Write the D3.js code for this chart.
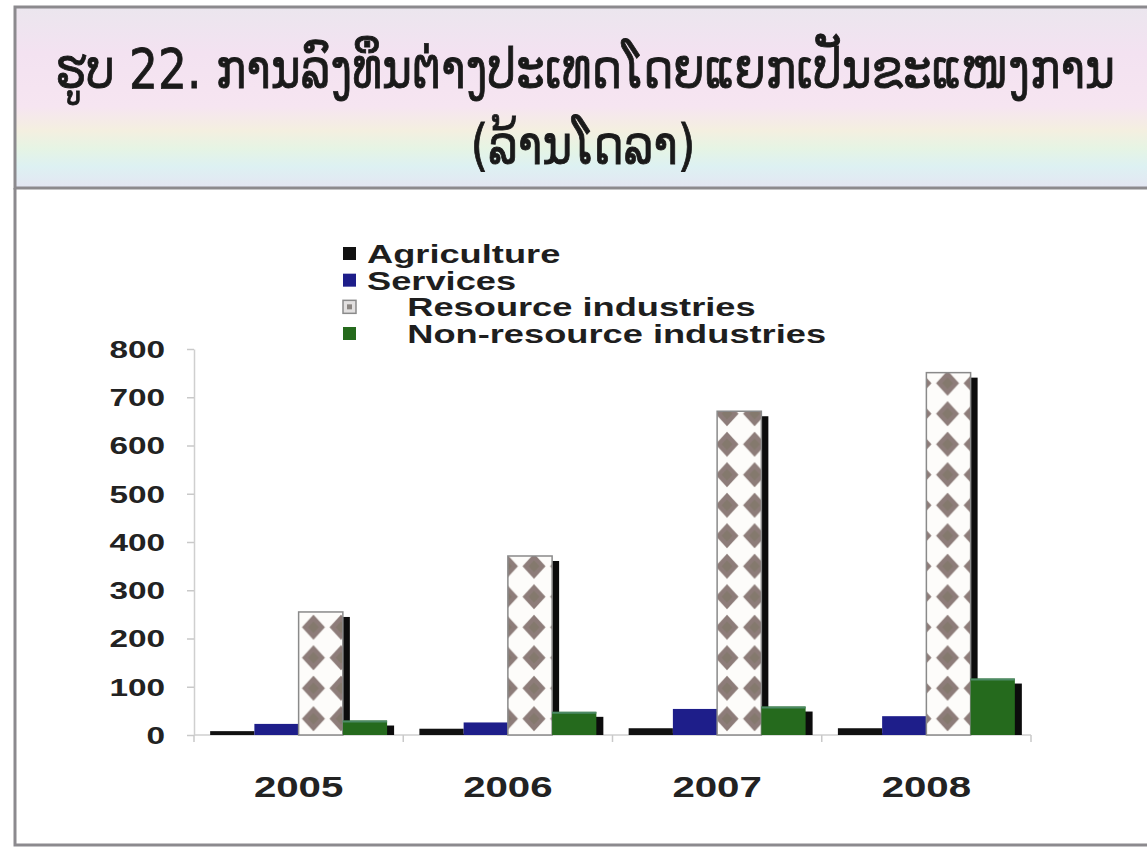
<!DOCTYPE html>
<html><head><meta charset="utf-8">
<script src="https://cdn.jsdelivr.net/npm/d3@7"></script>
<style>
body{margin:0;background:#fff;overflow:hidden}
svg text{white-space:pre}
</style>
</head><body>
<svg id="c" width="1147" height="848"></svg>
<script>
// ---------- data ----------
const titleLine1 = "ຮູບ 22. ການລົງທຶນຕ່າງປະເທດໂດຍແຍກເປັນຂະແໜງການ";
const titleLine2 = "(ລ້ານໂດລາ)";
const years = ["2005", "2006", "2007", "2008"];
const seriesNames = ["Agriculture", "Services", "Resource industries", "Non-resource industries"];
const legendLabels = ["Agriculture", "Services", "    Resource industries", "    Non-resource industries"];
const agriculture = [8, 13, 14, 14];
const services = [23, 26, 54, 39];
const resourceIndustries = [255, 371, 671, 751];
const nonResourceIndustries = [30, 48, 59, 117];
const yTicks = [0, 100, 200, 300, 400, 500, 600, 700, 800];

const seriesValues = [agriculture, services, resourceIndustries, nonResourceIndustries];
const seriesFill = ["#111111", "#1e1e8a", "url(#diamonds)", "#256a1d"];

// ---------- setup ----------
const svg = d3.select("#c");
const defs = svg.append("defs");

const grad = defs.append("linearGradient").attr("id", "titleBg")
  .attr("x1", 0).attr("y1", 0).attr("x2", 0).attr("y2", 1);
[["0%", "#ebe6ee"], ["25%", "#f3e2f1"], ["55%", "#f6e5f1"], ["68%", "#f4efe0"],
 ["78%", "#e6f4e4"], ["88%", "#ddf1f2"], ["100%", "#e4e6f3"]]
  .forEach(([o, c]) => grad.append("stop").attr("offset", o).attr("stop-color", c));

const PW = 27.57, PH = 30.5;
const pat = defs.append("pattern").attr("id", "diamonds")
  .attr("patternUnits", "userSpaceOnUse").attr("width", PW).attr("height", PH)
  .attr("patternTransform", "translate(-3.58,2)");
pat.append("rect").attr("width", PW).attr("height", PH).attr("fill", "#fdfcfa");
pat.append("path").attr("d", `M${PW/2},${PH/2-12.5} L${PW/2+11.5},${PH/2} L${PW/2},${PH/2+12.5} L${PW/2-11.5},${PH/2} Z`).attr("fill", "#8d7c79");
pat.append("path").attr("d", `M${PW/2},${PH/2-6} L${PW/2+5.5},${PH/2} L${PW/2},${PH/2+6} L${PW/2-5.5},${PH/2} Z`).attr("fill", "#7f7666").attr("opacity", 0.6);

// ---------- frames ----------
svg.append("rect").attr("x", 15).attr("y", 7).attr("width", 1150).attr("height", 181)
  .attr("fill", "url(#titleBg)").attr("stroke", "#8c8a8e").attr("stroke-width", 3);
svg.append("path").attr("d", "M15,188 L15,845 L1160,845")
  .attr("fill", "none").attr("stroke", "#8c8a8e").attr("stroke-width", 3);

// ---------- title ----------
function fitText(sel, target) {
  const w = sel.node().getComputedTextLength();
  const s = target / w;
  sel.attr("transform", sel.attr("data-t") + " scale(" + s + ",1)");
}
const TFONT = "'DejaVu Sans', 'Noto Sans', sans-serif";
const t1 = svg.append("text").text(titleLine1)
  .attr("data-t", "translate(585,88)")
  .attr("text-anchor", "middle").attr("font-family", TFONT)
  .attr("font-size", 56).attr("fill", "#1a1a1a")
  .attr("stroke", "#1a1a1a").attr("stroke-width", 0.9);
fitText(t1, 1060);
const t2 = svg.append("text").text(titleLine2)
  .attr("data-t", "translate(583,164)")
  .attr("text-anchor", "middle").attr("font-family", TFONT)
  .attr("font-size", 56).attr("fill", "#1a1a1a")
  .attr("stroke", "#1a1a1a").attr("stroke-width", 0.9);
fitText(t2, 225);

// ---------- scales ----------
const x0 = d3.scaleBand().domain(years).range([194, 1031]).paddingInner(0).paddingOuter(0);
const x1 = d3.scaleBand().domain(seriesNames).range([0, x0.bandwidth()])
  .paddingInner(0).paddingOuter(0.365);
const y = d3.scaleLinear().domain([0, 800]).range([735, 349]);

const SX = 1.45;
const FONT = "'Liberation Sans', Arial, sans-serif";

// ---------- y axis ----------
const yAxis = svg.append("g").attr("transform", "translate(194,0)")
  .call(d3.axisLeft(y).tickValues(yTicks).tickSize(7).tickPadding(13).tickSizeOuter(0));
yAxis.select(".domain").attr("stroke", "#cfcfcf").attr("stroke-width", 1.5);
yAxis.selectAll(".tick line").attr("stroke", "#c9c9c9").attr("stroke-width", 1.5);
yAxis.selectAll(".tick text")
  .attr("font-family", FONT).attr("font-weight", "bold").attr("font-size", 23)
  .attr("fill", "#222").attr("dy", "0.36em")
  .attr("transform", "scale(" + SX + ",1)");

// ---------- x axis ----------
const xAxis = svg.append("g");
xAxis.append("line").attr("x1", x0.range()[0]).attr("x2", x0.range()[1])
  .attr("y1", y(0)).attr("y2", y(0)).attr("stroke", "#cfcfcf").attr("stroke-width", 1.5);
const bounds = years.map(d => x0(d)).concat([x0.range()[1]]);
xAxis.selectAll("line.b").data(bounds).join("line").attr("class", "b")
  .attr("x1", d => d).attr("x2", d => d).attr("y1", y(0)).attr("y2", y(0) + 7)
  .attr("stroke", "#c9c9c9").attr("stroke-width", 1.5);
xAxis.selectAll("text").data(years).join("text")
  .attr("transform", d => "translate(" + (x0(d) + x0.bandwidth() / 2) + ",797) scale(1.34,1)")
  .attr("text-anchor", "middle").attr("font-family", FONT).attr("font-weight", "bold")
  .attr("font-size", 30).attr("fill", "#222").text(d => d);

// ---------- bars (absolute coordinates so the pattern sits in page space) ----------
const SHX = 7, SHY = 5;
const bars = svg.append("g");
years.forEach((yr, yi) => {
  seriesNames.forEach((s, si) => {
    const v = seriesValues[si][yi];
    const bx = x0(yr) + x1(s), bw = x1.bandwidth();
    const top = y(v);
    const sh = Math.max(0, y(0) - top - SHY);
    bars.append("rect").attr("x", bx + SHX).attr("y", top + SHY)
      .attr("width", bw).attr("height", sh).attr("fill", "#0c0c0c");
    const r = bars.append("rect").attr("x", bx).attr("y", top)
      .attr("width", bw).attr("height", y(0) - top).attr("fill", seriesFill[si]);
    if (si === 2) r.attr("stroke", "#8a8a8a").attr("stroke-width", 1.5);
    if (si === 3) bars.append("line").attr("x1", bx).attr("x2", bx + bw)
      .attr("y1", top + 1).attr("y2", top + 1).attr("stroke", "#4d8a66").attr("stroke-width", 2);
  });
});

// ---------- legend ----------
const legend = svg.append("g");
const legendBaseline = d3.scaleLinear().domain([0, 3]).range([263, 343]);
legendLabels.forEach((lab, i) => {
  const by = legendBaseline(i);
  const mk = legend.append("rect").attr("x", 343).attr("y", by - 16).attr("width", 13).attr("height", 13);
  if (i === 2) {
    mk.attr("fill", "#e2e0e0").attr("stroke", "#8a8a8a").attr("stroke-width", 1.5);
    legend.append("rect").attr("x", 347).attr("y", by - 12).attr("width", 5).attr("height", 5).attr("fill", "#8b8682");
  } else {
    mk.attr("fill", seriesFill[i]);
  }
  legend.append("text").text(lab)
    .attr("transform", "translate(367," + by + ") scale(" + SX + ",1)")
    .attr("font-family", FONT).attr("font-weight", "bold").attr("font-size", 25)
    .attr("fill", "#1e1e1e");
});
</script>
</body></html>
